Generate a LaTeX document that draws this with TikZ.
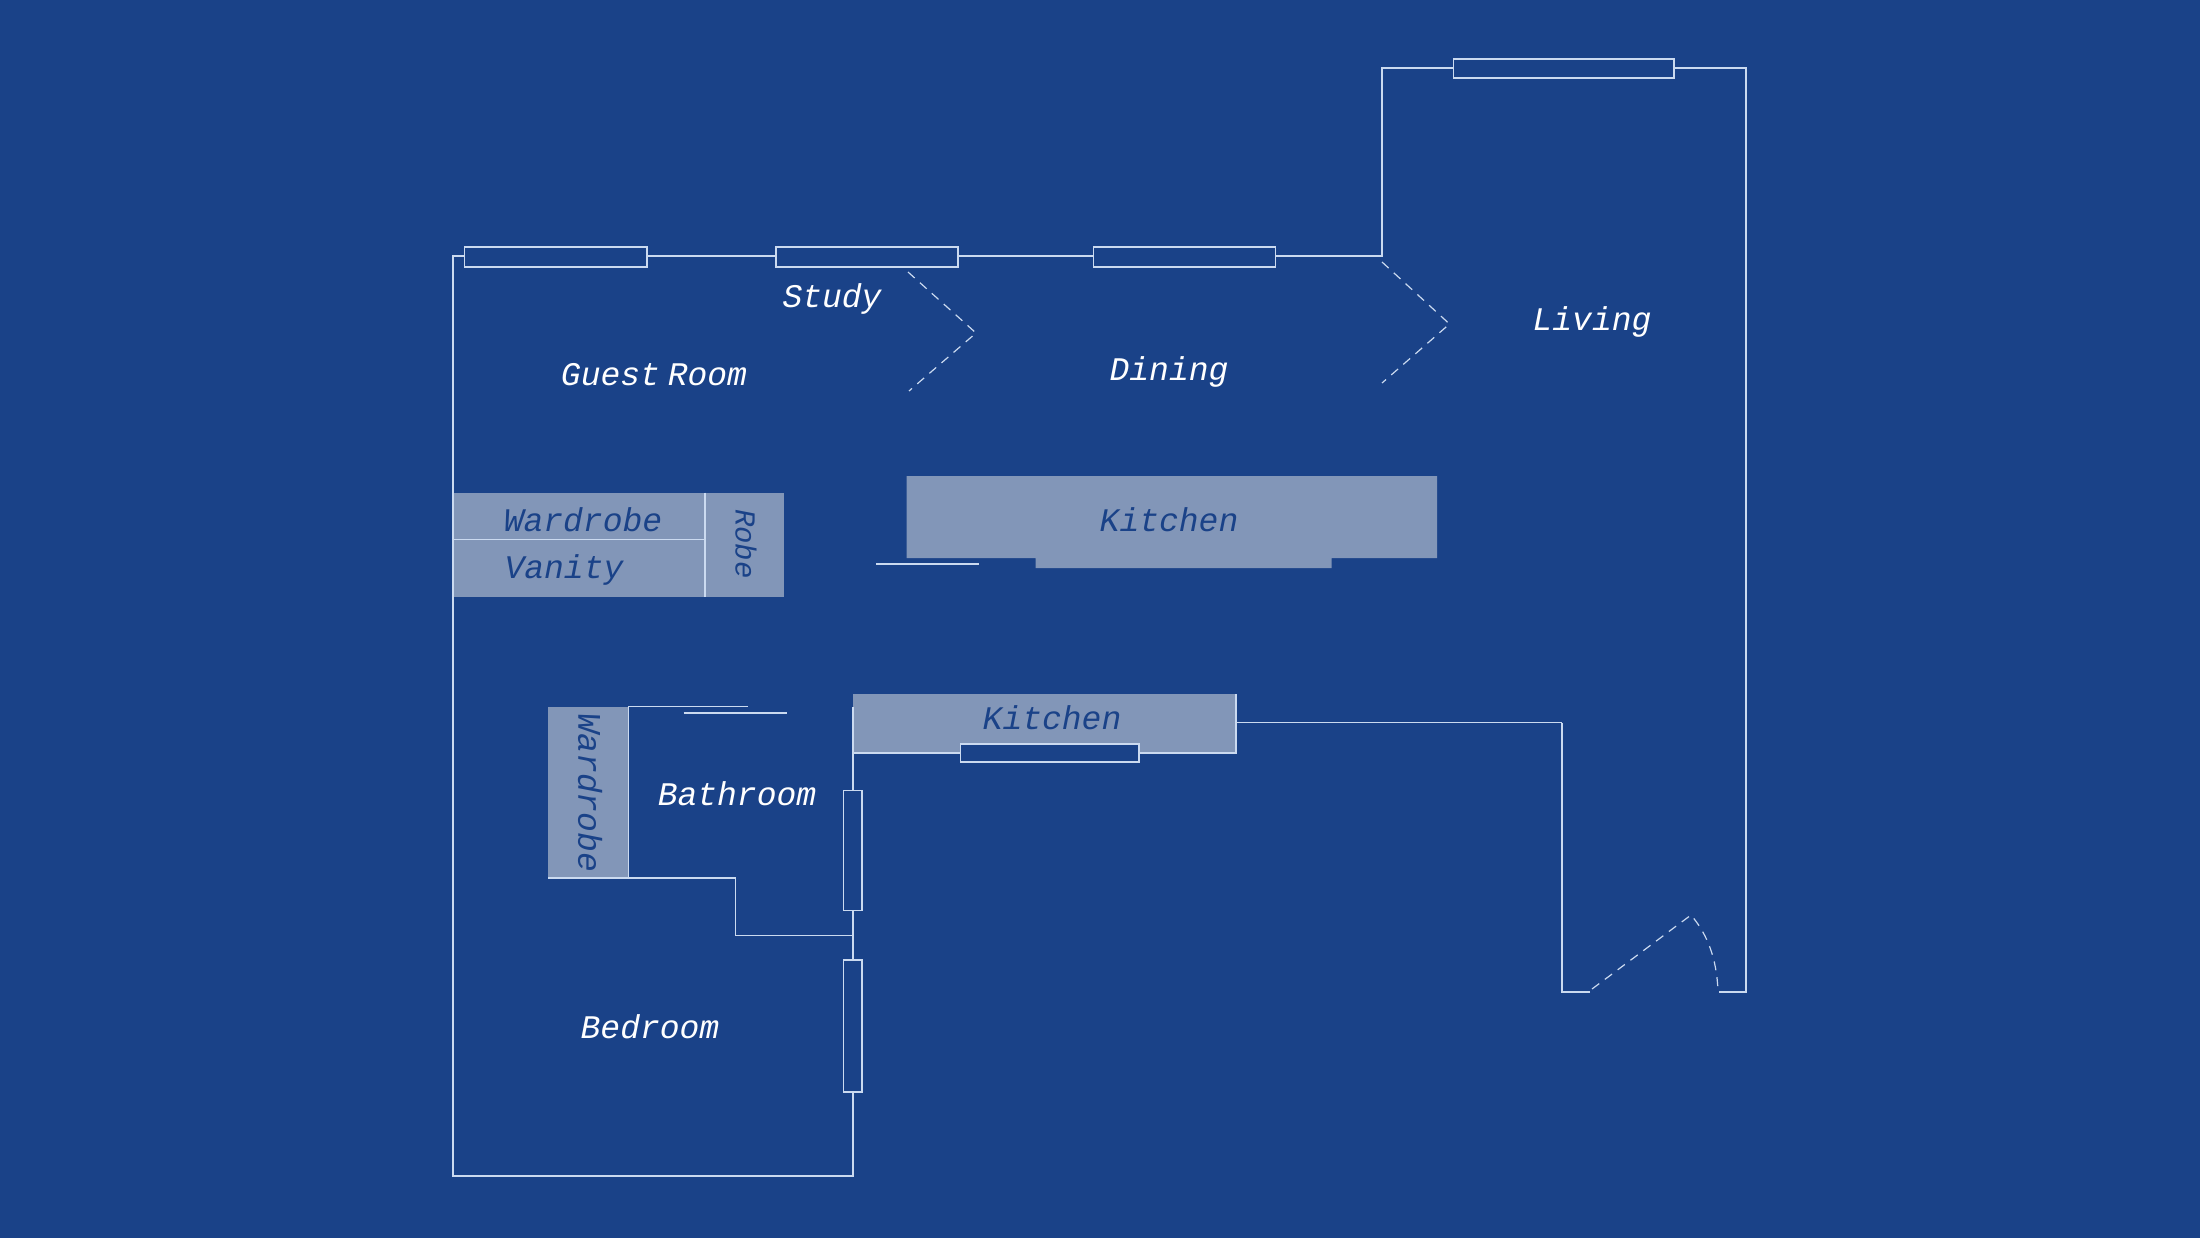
\documentclass[tikz,border=0pt]{standalone}
\usepackage{fontspec}
\setmonofont{Liberation Mono}
\definecolor{bp}{HTML}{1A4288}
\definecolor{blockc}{HTML}{8296B8}
\definecolor{wallc}{HTML}{CBDAF0}
\tikzset{
  wall/.style={draw=wallc,line width=1.1pt,line cap=butt,line join=miter},
  win/.style={draw=wallc,line width=1.3pt,fill=bp},
  swing/.style={draw=wallc,line width=1.2pt,dash pattern=on 9pt off 7pt},
  block/.style={fill=blockc,draw=none},
  room/.style={text=white,inner sep=0pt,font=\ttfamily\itshape\fontsize{33}{33}\selectfont},
  cab/.style={text=bp,inner sep=0pt,font=\ttfamily\itshape\fontsize{33}{33}\selectfont},
}
\begin{document}
\begin{tikzpicture}[x=1pt,y=-1pt]
\useasboundingbox (0,0) rectangle (2200,1238);
\fill[bp] (0,0) rectangle (2200,1238);
% cabinets
\fill[block] (453,492.5) rectangle (783.5,597);
\fill[block] (906.5,476) -- (1437,476) -- (1437,558) -- (1331.5,558) -- (1331.5,568) -- (1035.5,568) -- (1035.5,558) -- (906.5,558) -- cycle;
\fill[block] (853,693.5) rectangle (1236,753);
\fill[block] (548,706.5) rectangle (628.5,878);
% walls
\draw[wall] (1562,722.5) -- (1236,722.5);
\draw[wall] (1590,992) -- (1562,992) -- (1562,722.5);
\draw[wall] (1719,992) -- (1746,992) -- (1746,68) -- (1382,68) -- (1382,256) -- (453,256) -- (453,1176) -- (853,1176) -- (853,707);
\draw[wall] (853,753) -- (1236,753) -- (1236,693.5);
\draw[wall] (453,539.5) -- (705,539.5);
\draw[wall] (705,492.5) -- (705,597);
\draw[wall] (876,564) -- (979,564);
\draw[wall] (748,706.5) -- (628.5,706.5) -- (628.5,878);
\draw[wall] (683.5,713) -- (787,713);
\draw[wall] (548,878) -- (735.5,878) -- (735.5,935.5) -- (853,935.5);
% windows
\draw[win] (464.5,247) rectangle (647,267);
\draw[win] (776,247) rectangle (958,267);
\draw[win] (1093.5,247) rectangle (1275.5,267);
\draw[win] (1453.5,59) rectangle (1674,78);
\draw[win] (960.5,744) rectangle (1139,762);
\draw[win] (843.5,790.5) rectangle (862,910.5);
\draw[win] (843.5,960) rectangle (862,1092);
% door swings
\draw[swing] (908,272) -- (976,333) -- (909,391);
\draw[swing] (1382,262) -- (1449.5,324) -- (1382,383);
\draw[swing] (1592,989) -- (1691,915) .. controls (1708,935) and (1717,960) .. (1718,992);
% labels
\node[room] (study) at (832,299) {Study};
\node[room] (guest) at (654,375) {Guest\kern-12pt{} Room};
\node[room] (dining) at (1169,372) {Dining};
\node[room] (living) at (1592,322) {Living};
\node[room] (bath) at (737,794) {Bathroom};
\node[room] (bed) at (650,1027) {Bedroom};
\node[cab] (ward) at (583,520) {Wardrobe};
\node[cab] (van) at (564,570) {Vanity};
\node[cab,rotate=-90,font=\ttfamily\itshape\fontsize{29}{29}\selectfont] (robe) at (746,544) {Robe};
\node[cab] (kit) at (1169,520) {Kitchen};
\node[cab] (kitb) at (1052,718) {Kitchen};
\node[cab,rotate=-90] (wardb) at (590,793) {Wardrobe};
\end{tikzpicture}
\end{document}
